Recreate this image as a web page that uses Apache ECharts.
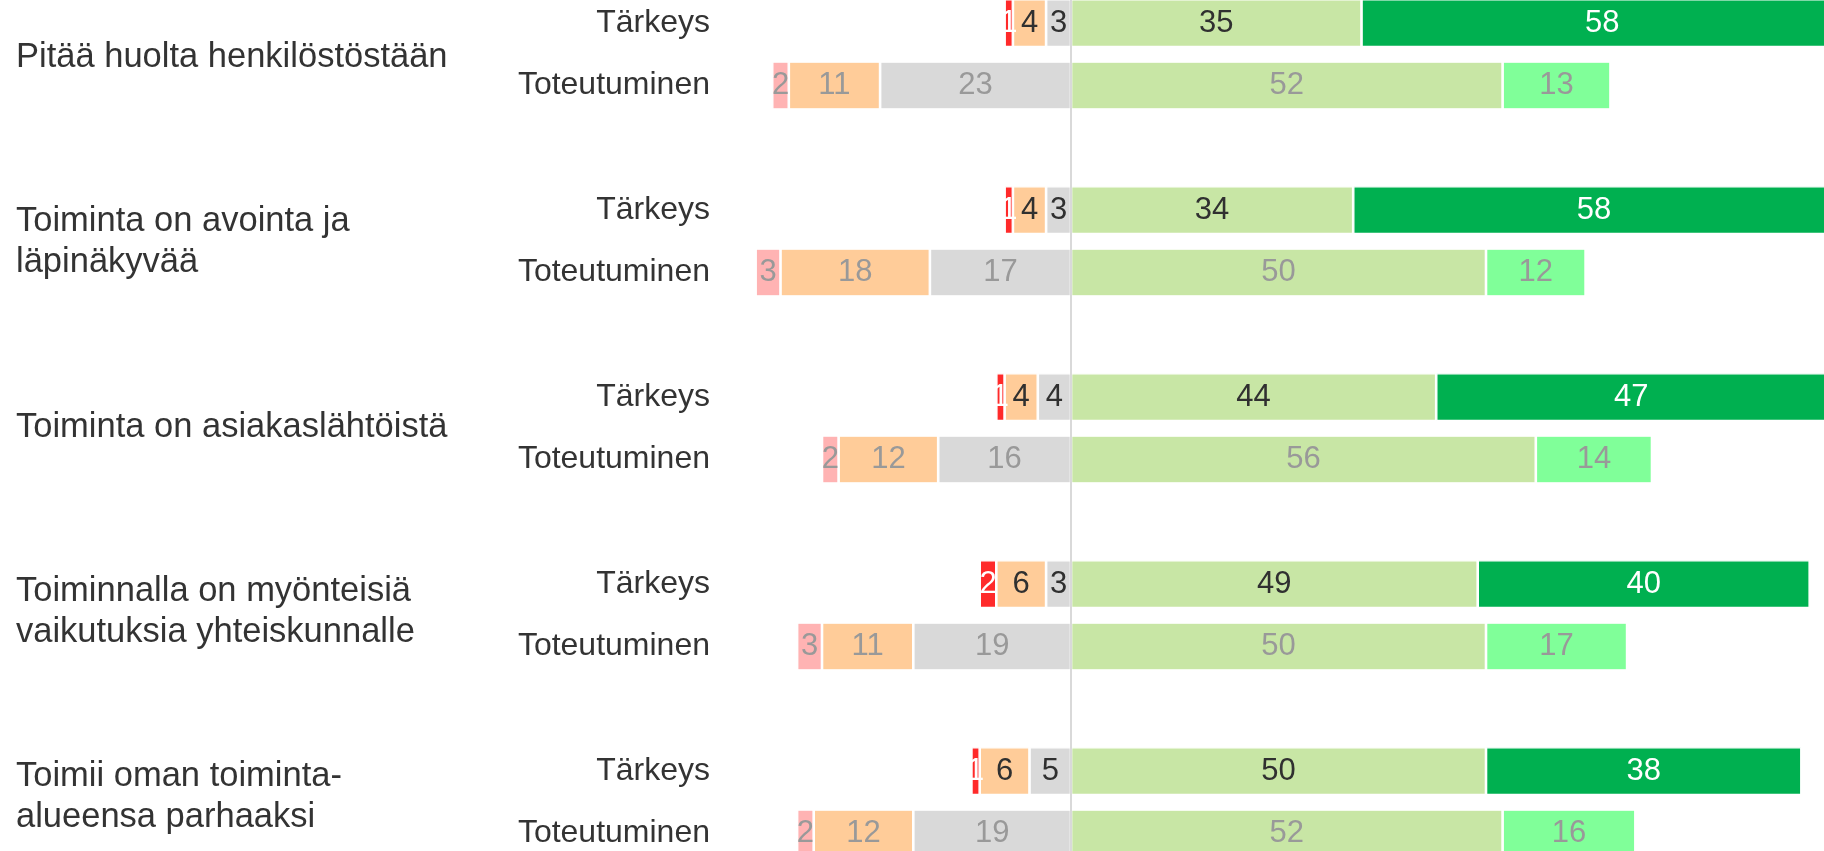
<!DOCTYPE html>
<html>
<head>
<meta charset="utf-8">
<title>Tärkeys ja toteutuminen</title>
<script src="https://cdn.jsdelivr.net/npm/echarts@6/dist/echarts.min.js"></script>
<style>
  html, body { margin: 0; padding: 0; background: #ffffff; }
  #main { width: 1824px; height: 851px; }
</style>
</head>
<body>
<div id="main"></div>
<script>
const groups = [
  'Pitää huolta henkilöstöstään',
  'Toiminta on avointa ja\nläpinäkyvää',
  'Toiminta on asiakaslähtöistä',
  'Toiminnalla on myönteisiä\nvaikutuksia yhteiskunnalle',
  'Toimii oman toiminta-\nalueensa parhaaksi'
]
const rowLabels = ['Tärkeys', 'Toteutuminen', '']

// Tärkeys
const tVeryLow = [1, 1, 1, 2, 1]
const tLow = [4, 4, 4, 6, 6]
const tNeutral = [3, 3, 4, 3, 5]
const tHigh = [35, 34, 44, 49, 50]
const tVeryHigh = [58, 58, 47, 40, 38]

// Toteutuminen
const rVeryLow = [2, 3, 2, 3, 2]
const rLow = [11, 18, 12, 11, 12]
const rNeutral = [23, 17, 16, 19, 19]
const rHigh = [52, 50, 56, 50, 52]
const rVeryHigh = [13, 12, 14, 17, 16]

const font = "'Liberation Sans', Arial, sans-serif"

// 3 rivipaikkaa per ryhmä: Tärkeys, Toteutuminen, tyhjä
const rowCats = []
groups.forEach(function () { rowLabels.forEach(function (r) { rowCats.push(r) }) })

function spread(values, offset, sign) {
  const out = rowCats.map(function () { return '-' })
  values.forEach(function (v, i) { out[i * 3 + offset] = v * sign })
  return out
}

function bar(name, values, offset, sign, color, textColor) {
  return {
    name: name,
    type: 'bar',
    stack: 'all',
    xAxisIndex: 0,
    yAxisIndex: 0,
    barWidth: 48,
    data: spread(values, offset, sign),
    itemStyle: { color: color, borderColor: '#ffffff', borderWidth: 1.3 },
    label: {
      show: true,
      position: 'inside',
      fontFamily: font,
      fontSize: 31,
      color: textColor,
      formatter: function (p) { return Math.abs(p.value) }
    },
    emphasis: { disabled: true }
  }
}

const series = [
  // vasen puoli: lähimpänä nollaa ensin
  bar('T neutraali', tNeutral, 0, -1, '#d9d9d9', '#303030'),
  bar('T heikko', tLow, 0, -1, '#ffcc99', '#303030'),
  bar('T erittäin heikko', tVeryLow, 0, -1, '#ff2a2a', '#ffffff'),
  bar('T hyvä', tHigh, 0, 1, '#c8e6a5', '#303030'),
  bar('T erittäin hyvä', tVeryHigh, 0, 1, '#00b050', '#ffffff'),
  bar('R neutraali', rNeutral, 1, -1, '#d9d9d9', '#999999'),
  bar('R heikko', rLow, 1, -1, '#ffcc99', '#999999'),
  bar('R erittäin heikko', rVeryLow, 1, -1, '#ffb3b3', '#999999'),
  bar('R hyvä', rHigh, 1, 1, '#c8e6a5', '#999999'),
  bar('R erittäin hyvä', rVeryHigh, 1, 1, '#80ff99', '#999999')
]

series[0].markLine = {
  silent: true,
  symbol: 'none',
  label: { show: false },
  lineStyle: { color: '#d9d9d9', width: 2, type: 'solid' },
  data: [{ xAxis: 0 }]
}

// tyhjä sarja ryhmänimien akselille
series.push({
  type: 'bar',
  xAxisIndex: 1,
  yAxisIndex: 1,
  data: groups.map(function () { return '-' })
})

const chart = echarts.init(document.getElementById('main'))
chart.setOption({
  backgroundColor: '#ffffff',
  animation: false,
  grid: [
    { left: 739, right: -77, top: -8, bottom: -76, outerBoundsMode: 'none', containLabel: false },
    { left: 16, right: -77, top: -35, bottom: -38, outerBoundsMode: 'none', containLabel: false }
  ],
  xAxis: [
    { type: 'value', gridIndex: 0, min: -40, max: 100, show: false },
    { type: 'value', gridIndex: 1, min: 0, max: 1, show: false }
  ],
  yAxis: [
    {
      type: 'category',
      gridIndex: 0,
      inverse: true,
      data: rowCats,
      axisLine: { show: false },
      axisTick: { show: false },
      splitLine: { show: false },
      axisLabel: { margin: 29, fontFamily: font, fontSize: 32, color: '#333333', interval: 0 }
    },
    {
      type: 'category',
      gridIndex: 1,
      inverse: true,
      data: groups,
      axisLine: { show: false },
      axisTick: { show: false },
      splitLine: { show: false },
      axisLabel: {
        margin: 0,
        align: 'left',
        fontFamily: font,
        fontSize: 34.5,
        lineHeight: 41,
        color: '#333333',
        interval: 0
      }
    }
  ],
  series: series
})
</script>
</body>
</html>
